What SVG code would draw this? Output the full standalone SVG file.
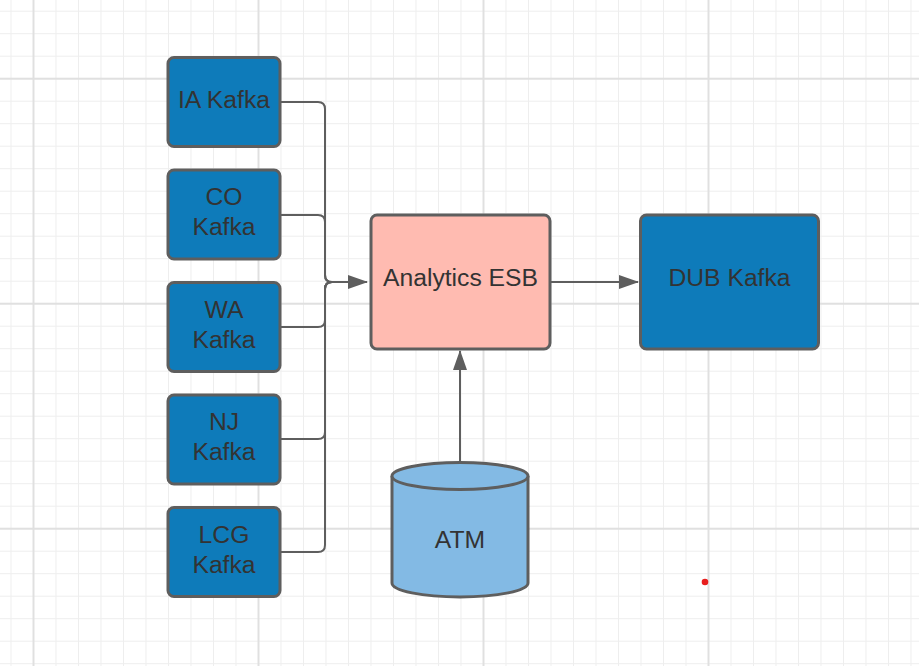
<svg xmlns="http://www.w3.org/2000/svg" width="919" height="666" viewBox="0 0 919 666">
<defs>
<pattern id="minor" patternUnits="userSpaceOnUse" x="10.5" y="10.7" width="22.5" height="22.5">
<rect x="0" y="0" width="1" height="22.5" fill="#eeeeee"/>
<rect x="0" y="0" width="22.5" height="1" fill="#eeeeee"/>
</pattern>
<pattern id="major" patternUnits="userSpaceOnUse" x="32.5" y="77.7" width="225" height="225">
<rect x="0" y="0" width="2" height="225" fill="#e0e0e0"/>
<rect x="0" y="0" width="225" height="2" fill="#e0e0e0"/>
</pattern>
<marker id="arrow" viewBox="0 0 20 14" refX="19" refY="7" markerWidth="20" markerHeight="14" markerUnits="userSpaceOnUse" orient="auto">
<path d="M0 0 L20 7 L0 14 Z" fill="#5e5e5e"/>
</marker>
</defs>
<style>
.kafka{fill:#0e7bba;stroke:#5e5e5e;stroke-width:3}
.esb{fill:#ffbbb1;stroke:#5e5e5e;stroke-width:3}
.db{fill:#83bae4;stroke:#5e5e5e;stroke-width:3}
.lbl{font-family:"Liberation Sans",Arial,sans-serif;font-size:24.7px;fill:#333333;text-anchor:middle}
.conn{fill:none;stroke:#5e5e5e;stroke-width:2}
</style>
<rect width="919" height="666" fill="#ffffff"/>
<rect width="919" height="666" fill="url(#minor)"/>
<rect width="919" height="666" fill="url(#major)"/>

<g id="connectors">
<path class="conn" d="M281 102 H318 Q325 102 325 109 V275 Q325 282 332 282 H367" marker-end="url(#arrow)"/>
<path class="conn" d="M281 215 H318 Q325 215 325 222 V275 Q325 282 332 282"/>
<path class="conn" d="M281 327 H318 Q325 327 325 320 V289 Q325 282 332 282"/>
<path class="conn" d="M281 439 H318 Q325 439 325 432 V289 Q325 282 332 282"/>
<path class="conn" d="M281 552 H318 Q325 552 325 545 V289 Q325 282 332 282"/>
<path class="conn" d="M551 282 H638" marker-end="url(#arrow)"/>
<path class="conn" d="M460 462 V351" marker-end="url(#arrow)"/>
</g>

<g id="ia-kafka">
<rect class="kafka" x="168" y="57.5" width="112" height="89" rx="6"/>
<text class="lbl" x="224" y="108">IA Kafka</text>
</g>
<g id="co-kafka">
<rect class="kafka" x="168" y="170" width="112" height="89" rx="6"/>
<text class="lbl" x="224" y="205">CO</text>
<text class="lbl" x="224" y="235">Kafka</text>
</g>
<g id="wa-kafka">
<rect class="kafka" x="168" y="282.5" width="112" height="89" rx="6"/>
<text class="lbl" x="224" y="317.5">WA</text>
<text class="lbl" x="224" y="347.5">Kafka</text>
</g>
<g id="nj-kafka">
<rect class="kafka" x="168" y="395" width="112" height="89" rx="6"/>
<text class="lbl" x="224" y="430">NJ</text>
<text class="lbl" x="224" y="460">Kafka</text>
</g>
<g id="lcg-kafka">
<rect class="kafka" x="168" y="507.5" width="112" height="89" rx="6"/>
<text class="lbl" x="224" y="542.5">LCG</text>
<text class="lbl" x="224" y="572.5">Kafka</text>
</g>
<g id="analytics-esb">
<rect class="esb" x="371" y="215" width="179" height="134" rx="6"/>
<text class="lbl" x="460.5" y="286">Analytics ESB</text>
</g>
<g id="dub-kafka">
<rect class="kafka" x="640.5" y="215" width="178" height="134" rx="6"/>
<text class="lbl" x="729.5" y="286">DUB Kafka</text>
</g>
<g id="atm">
<path class="db" d="M392 476 A68 13.5 0 0 1 528 476 V583 A68 14 0 0 1 392 583 Z"/>
<path class="db" d="M392 476 A68 13.5 0 0 0 528 476" fill="none"/>
<text class="lbl" x="460" y="547.5">ATM</text>
</g>
<circle cx="705" cy="582" r="3.3" fill="#e81e1e"/>
</svg>
